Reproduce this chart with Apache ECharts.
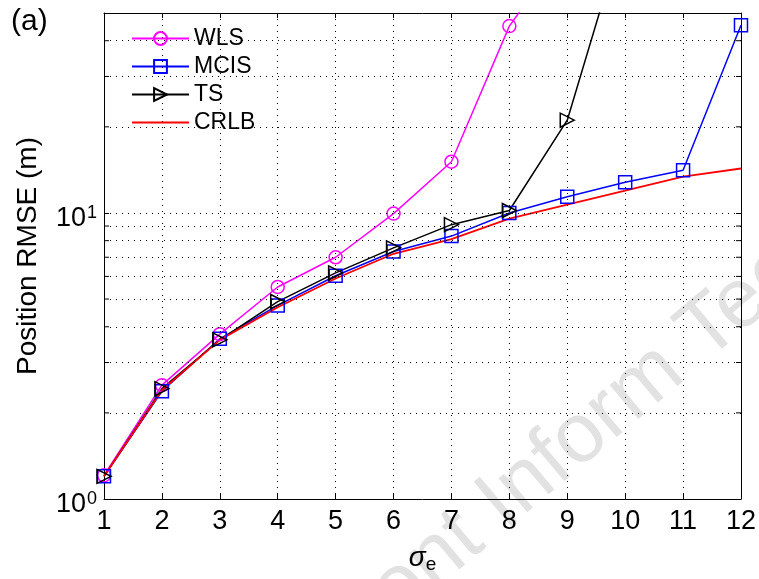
<!DOCTYPE html>
<html>
<head>
<meta charset="utf-8">
<script src="https://cdn.jsdelivr.net/npm/echarts@6/dist/echarts.min.js"></script>
<style>
  html, body { margin: 0; padding: 0; background: #fff; }
  #chart { width: 759px; height: 579px; }
</style>
</head>
<body>
<div id="chart"></div>
<script>
// sigma_e values on the x axis
const sigma = [1, 2, 3, 4, 5, 6, 7, 8, 9, 10, 11, 12];
// position RMSE (m)
const wls = [1.21, 2.5, 3.77, 5.51, 7.0, 9.95, 15.1, 45, 86];
const mcis = [1.2, 2.38, 3.63, 4.75, 6.03, 7.33, 8.3, 10.0, 11.4, 12.8, 14.1, 45.3];
const ts = [1.2, 2.43, 3.6, 4.9, 6.17, 7.55, 9.1, 10.2, 21.1, 100];
const crlb = [1.2, 2.4, 3.6, 4.68, 5.9, 7.2, 8.1, 9.55, 10.7, 11.96, 13.4, 14.3];
// log axis helper lines
const yGridTicks = [2, 3, 4, 5, 6, 7, 8, 9, 10, 20, 30, 40];
const yMinorTicks = [2, 3, 4, 5, 6, 7, 8, 9, 20, 30, 40];

const FONT = '"Liberation Sans", Arial, sans-serif';
const pairs = arr => arr.map((v, i) => [sigma[i], v]);

const chart = echarts.init(document.getElementById('chart'));

const boxAxis = {
  axisLine: { show: true, lineStyle: { color: '#000', width: 1 } },
  axisTick: { show: true, inside: true, length: 5, lineStyle: { color: '#000' } }
};

const option = {
  backgroundColor: '#fff',
  animation: false,
  textStyle: { fontFamily: FONT },
  grid: { left: 104, right: 18, top: 13, bottom: 72 },
  graphic: [
    {
      type: 'text', left: 11, top: 7, z: 10,
      style: { text: '(a)', fontSize: 30, fontFamily: FONT, fill: '#000' }
    },
    {
      type: 'text', x: 295, y: 622, rotation: 40 * Math.PI / 180, z: 0,
      style: { text: 'Front Inform Technol', fontSize: 84, fontFamily: FONT, fill: '#e2e2e2' }
    }
  ],
  legend: {
    orient: 'vertical',
    left: 126, top: 22,
    itemWidth: 57, itemHeight: 16, itemGap: 5,
    data: [
      'WLS', 'MCIS', 'TS',
      { name: 'CRLB', itemStyle: { color: 'rgba(0,0,0,0)', borderWidth: 0 } }
    ],
    textStyle: { fontSize: 23, lineHeight: 23, color: '#000', fontFamily: FONT }
  },
  xAxis: [
    Object.assign({
      type: 'value', min: 1, max: 12, interval: 1,
      name: '{s|σ}{e|e}', nameLocation: 'middle', nameGap: 44,
      nameTextStyle: {
        rich: {
          s: { fontSize: 28, fontStyle: 'italic', fontFamily: FONT, color: '#000' },
          e: { fontSize: 19, fontFamily: FONT, color: '#000', padding: [12, 0, 0, 0] }
        }
      },
      axisLabel: { fontSize: 27, color: '#000', margin: 9, fontFamily: FONT },
      splitLine: { show: true, lineStyle: { color: '#000', type: [1, 5], width: 1 } }
    }, boxAxis),
    Object.assign({
      type: 'value', min: 1, max: 12, interval: 1, position: 'top',
      axisLabel: { show: false }, splitLine: { show: false }
    }, boxAxis)
  ],
  yAxis: [
    Object.assign({
      type: 'log', logBase: 10, min: 1, max: 50,
      name: 'Position RMSE (m)', nameLocation: 'middle', nameGap: 62,
      nameTextStyle: { fontSize: 28, color: '#000', fontFamily: FONT },
      axisLabel: {
        margin: 7,
        padding: [12, 0, 0, 0],
        formatter: function (v) {
          const p = Math.log10(v);
          if (Math.abs(p - Math.round(p)) > 1e-6) return '';
          return '{b|10}{p|' + Math.round(p) + '}';
        },
        rich: {
          b: { fontSize: 27, lineHeight: 30, color: '#000', fontFamily: FONT },
          p: { fontSize: 18, lineHeight: 18, color: '#000', fontFamily: FONT, verticalAlign: 'top', padding: [0, 0, 6, 1] }
        }
      },
      splitLine: { show: false }
    }, boxAxis),
    Object.assign({
      type: 'log', logBase: 10, min: 1, max: 50, position: 'right',
      axisLabel: { show: false }, splitLine: { show: false }
    }, boxAxis)
  ],
  series: [
    {
      name: 'gridlines', type: 'line', data: [], z: 1, silent: true,
      markLine: {
        silent: true, symbol: 'none', label: { show: false },
        lineStyle: { color: '#000', type: [1, 5], width: 1 },
        data: yGridTicks.map(v => ({ yAxis: v }))
      }
    },
    {
      name: 'minorTicks', type: 'custom', silent: true, z: 3,
      data: yMinorTicks.map(v => [1, v]),
      encode: { x: 0, y: 1 },
      renderItem: function (params, api) {
        const l = api.coord([1, api.value(1)]);
        const r = api.coord([12, api.value(1)]);
        return {
          type: 'group',
          children: [
            { type: 'line', shape: { x1: l[0], y1: l[1], x2: l[0] + 5, y2: l[1] }, style: { stroke: '#000', lineWidth: 1 } },
            { type: 'line', shape: { x1: r[0] - 5, y1: r[1], x2: r[0], y2: r[1] }, style: { stroke: '#000', lineWidth: 1 } }
          ]
        };
      }
    },
    {
      name: 'WLS', type: 'line', data: pairs(wls), z: 4,
      symbol: 'circle', symbolSize: 13, showAllSymbol: true,
      lineStyle: { color: '#ff00ff', width: 1.5 },
      itemStyle: { color: 'rgba(0,0,0,0)', borderColor: '#ff00ff', borderWidth: 1.5 }
    },
    {
      name: 'MCIS', type: 'line', data: pairs(mcis), z: 4,
      symbol: 'rect', symbolSize: 13, showAllSymbol: true,
      lineStyle: { color: '#0000ff', width: 1.5 },
      itemStyle: { color: 'rgba(0,0,0,0)', borderColor: '#0000ff', borderWidth: 1.5 }
    },
    {
      name: 'TS', type: 'line', data: pairs(ts), z: 4,
      symbol: 'triangle', symbolRotate: -90, symbolSize: 14, showAllSymbol: true,
      lineStyle: { color: '#000', width: 1.5 },
      itemStyle: { color: 'rgba(0,0,0,0)', borderColor: '#000', borderWidth: 1.5 }
    },
    {
      name: 'CRLB', type: 'line', data: pairs(crlb), z: 4,
      symbol: 'none',
      lineStyle: { color: '#ff0000', width: 1.8 },
      itemStyle: { color: '#ff0000' }
    }
  ]
};

chart.setOption(option);
</script>
</body>
</html>
